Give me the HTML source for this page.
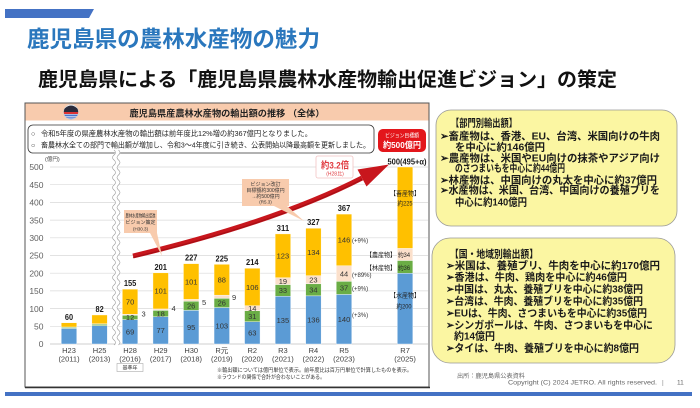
<!DOCTYPE html>
<html><head><meta charset="utf-8">
<style>
html,body{margin:0;padding:0;background:#fff;}
svg{display:block;font-family:"Liberation Sans","Noto Sans CJK JP",sans-serif;}
.b{fill:#5b9bd5}.g{fill:#6aad45}.p{fill:#fbe0cb}.y{fill:#ffc000}
.s rect{stroke:#fff;stroke-width:0.4}
.il{font-size:7.5px;fill:#333;text-anchor:middle}
.tl{font-size:8px;font-weight:bold;fill:#1a1a1a;text-anchor:middle}
.xl{font-size:7.5px;fill:#404040;text-anchor:middle}
.yl{font-size:8.5px;fill:#606060;text-anchor:end}
.rb{font-size:10.5px;font-weight:bold;fill:#1a1a1a}
</style></head><body>
<svg width="700" height="408" viewBox="0 0 700 408" xmlns="http://www.w3.org/2000/svg">
<rect width="700" height="408" fill="#fff"/>
<!-- top bar & titles -->
<polygon points="5,9 94,9 89,18 5,18" fill="#4472c4"/>
<text x="27" y="47" font-size="22.5" font-weight="bold" fill="#2a77bd" textLength="293" lengthAdjust="spacingAndGlyphs">鹿児島県の農林水産物の魅力</text>
<text x="38" y="86" font-size="19.5" font-weight="bold" fill="#111" textLength="579" lengthAdjust="spacingAndGlyphs">鹿児島県による「鹿児島県農林水産物輸出促進ビジョン」の策定</text>

<!-- chart frame -->
<rect x="25" y="103" width="404" height="284" fill="#fff" stroke="#555" stroke-width="1"/>
<line x1="25" y1="387.5" x2="430" y2="387.5" stroke="#333" stroke-width="1.5"/>
<rect x="25.5" y="103.5" width="403" height="17" fill="#f8cbad"/>
<clipPath id="lc"><circle cx="71" cy="112" r="7.5"/></clipPath>
<g clip-path="url(#lc)">
<rect x="63" y="104" width="16" height="16" fill="#fff"/>
<path d="M62,112 Q66,105.5 71,105.5 Q76,105.5 80,112 Z" fill="#2b2b3b"/>
<rect x="63" y="112" width="16" height="2" fill="#d33"/>
<rect x="63" y="114.5" width="16" height="1.6" fill="#4a76c8"/>
<rect x="63" y="116.6" width="16" height="1.6" fill="#7a95d8"/>
<rect x="63" y="118.6" width="16" height="2" fill="#4a76c8"/>
</g>
<circle cx="71" cy="112" r="7.5" fill="none" stroke="#ccc" stroke-width="0.5"/>
<text x="227" y="116.5" text-anchor="middle" font-size="9" font-weight="bold" fill="#222" textLength="195" lengthAdjust="spacingAndGlyphs">鹿児島県産農林水産物の輸出額の推移 （全体）</text>

<rect x="28" y="125" width="346" height="28" rx="5" fill="#fff" stroke="#333" stroke-width="0.8"/>
<text x="31" y="136" font-size="7" fill="#222">○</text>
<text x="41" y="136" font-size="7.2" fill="#222" textLength="271" lengthAdjust="spacingAndGlyphs">令和5年度の県産農林水産物の輸出額は前年度比12%増の約367億円となりました。</text>
<text x="31" y="147.5" font-size="7" fill="#222">○</text>
<text x="41" y="147.5" font-size="7.2" fill="#222" textLength="329" lengthAdjust="spacingAndGlyphs">畜農林水全ての部門で輸出額が増加し、令和3～4年度に引き続き、公表開始以降最高額を更新しました。</text>

<rect x="378" y="129" width="48" height="23" rx="5" fill="#e3161b"/>
<text x="402" y="137.5" text-anchor="middle" font-size="5.5" fill="#fff" textLength="34" lengthAdjust="spacingAndGlyphs">ビジョン目標額</text>
<text x="402" y="148" text-anchor="middle" font-size="8.5" font-weight="bold" fill="#fff" textLength="38" lengthAdjust="spacingAndGlyphs">約500億円</text>

<!-- axis -->
<text x="45" y="161" font-size="5.5" fill="#444">(億円)</text>
<g stroke="#d9d9d9" stroke-width="0.7">
<line x1="50" y1="167" x2="428" y2="167"/>
<line x1="50" y1="184.7" x2="428" y2="184.7"/>
<line x1="50" y1="202.4" x2="428" y2="202.4"/>
<line x1="50" y1="220.1" x2="428" y2="220.1"/>
<line x1="50" y1="237.8" x2="428" y2="237.8"/>
<line x1="50" y1="255.5" x2="428" y2="255.5"/>
<line x1="50" y1="273.2" x2="428" y2="273.2"/>
<line x1="50" y1="290.9" x2="428" y2="290.9"/>
<line x1="50" y1="308.6" x2="428" y2="308.6"/>
<line x1="50" y1="326.3" x2="428" y2="326.3"/>
</g>
<line x1="50" y1="344" x2="428" y2="344" stroke="#bfbfbf" stroke-width="0.8"/>
<text class="yl" x="43.5" y="170.2">500</text>
<text class="yl" x="43.5" y="187.9">450</text>
<text class="yl" x="43.5" y="205.6">400</text>
<text class="yl" x="43.5" y="223.3">350</text>
<text class="yl" x="43.5" y="241">300</text>
<text class="yl" x="43.5" y="258.7">250</text>
<text class="yl" x="43.5" y="276.4">200</text>
<text class="yl" x="43.5" y="294.1">150</text>
<text class="yl" x="43.5" y="311.8">100</text>
<text class="yl" x="43.5" y="329.5">50</text>
<text class="yl" x="43.5" y="347.2">0</text>

<!-- wavy break -->
<path d="M116.2,150 q3,2.5 0,5 t0,5 t0,5 t0,5 t0,5 t0,5 t0,5 t0,5 t0,5 t0,5 t0,5 t0,5 t0,5 t0,5 t0,5 t0,5 t0,5 t0,5 t0,5 t0,5 t0,5 t0,5 t0,5 t0,5 t0,5 t0,5 t0,5 t0,5 t0,5 t0,5 t0,5 t0,5 t0,5 t0,5 t0,5 t0,5 t0,5 t0,5 t0,5" fill="none" stroke="#fff" stroke-width="5"/>
<path d="M114,150 q3,2.5 0,5 t0,5 t0,5 t0,5 t0,5 t0,5 t0,5 t0,5 t0,5 t0,5 t0,5 t0,5 t0,5 t0,5 t0,5 t0,5 t0,5 t0,5 t0,5 t0,5 t0,5 t0,5 t0,5 t0,5 t0,5 t0,5 t0,5 t0,5 t0,5 t0,5 t0,5 t0,5 t0,5 t0,5 t0,5 t0,5 t0,5 t0,5 t0,5" fill="none" stroke="#999" stroke-width="0.6"/>
<path d="M118.5,150 q3,2.5 0,5 t0,5 t0,5 t0,5 t0,5 t0,5 t0,5 t0,5 t0,5 t0,5 t0,5 t0,5 t0,5 t0,5 t0,5 t0,5 t0,5 t0,5 t0,5 t0,5 t0,5 t0,5 t0,5 t0,5 t0,5 t0,5 t0,5 t0,5 t0,5 t0,5 t0,5 t0,5 t0,5 t0,5 t0,5 t0,5 t0,5 t0,5 t0,5" fill="none" stroke="#999" stroke-width="0.6"/>

<!-- bars -->
<g class="s">
<rect class="b" x="61.25" y="328.42" width="15.5" height="15.58"/>
<rect class="g" x="61.25" y="327.36" width="15.5" height="1.06"/>
<rect class="p" x="61.25" y="327.01" width="15.5" height="0.35"/>
<rect class="y" x="61.25" y="322.76" width="15.5" height="4.25"/>

<rect class="b" x="91.85" y="325.59" width="15.5" height="18.41"/>
<rect class="g" x="91.85" y="324.17" width="15.5" height="1.42"/>
<rect class="p" x="91.85" y="323.82" width="15.5" height="0.35"/>
<rect class="y" x="91.85" y="314.97" width="15.5" height="8.85"/>

<rect class="b" x="122.35" y="319.57" width="15.5" height="24.43"/>
<rect class="g" x="122.35" y="315.32" width="15.5" height="4.25"/>
<rect class="p" x="122.35" y="314.26" width="15.5" height="1.06"/>
<rect class="y" x="122.35" y="289.13" width="15.5" height="25.13"/>

<rect class="b" x="152.95" y="316.74" width="15.5" height="27.26"/>
<rect class="g" x="152.95" y="310.37" width="15.5" height="6.37"/>
<rect class="p" x="152.95" y="308.95" width="15.5" height="1.42"/>
<rect class="y" x="152.95" y="272.85" width="15.5" height="36.1"/>

<rect class="b" x="183.45" y="310.37" width="15.5" height="33.63"/>
<rect class="g" x="183.45" y="301.17" width="15.5" height="9.2"/>
<rect class="p" x="183.45" y="299.4" width="15.5" height="1.77"/>
<rect class="y" x="183.45" y="263.64" width="15.5" height="35.76"/>

<rect class="b" x="214.05" y="307.54" width="15.5" height="36.46"/>
<rect class="g" x="214.05" y="298.34" width="15.5" height="9.2"/>
<rect class="p" x="214.05" y="295.15" width="15.5" height="3.19"/>
<rect class="y" x="214.05" y="264.35" width="15.5" height="30.8"/>

<rect class="b" x="244.55" y="321.7" width="15.5" height="22.3"/>
<rect class="g" x="244.55" y="310.72" width="15.5" height="10.98"/>
<rect class="p" x="244.55" y="305.77" width="15.5" height="4.95"/>
<rect class="y" x="244.55" y="268.24" width="15.5" height="37.53"/>

<rect class="b" x="275.15" y="296.21" width="15.5" height="47.79"/>
<rect class="g" x="275.15" y="284.53" width="15.5" height="11.68"/>
<rect class="p" x="275.15" y="277.8" width="15.5" height="6.73"/>
<rect class="y" x="275.15" y="233.91" width="15.5" height="43.89"/>

<rect class="b" x="305.65" y="295.86" width="15.5" height="48.14"/>
<rect class="g" x="305.65" y="283.82" width="15.5" height="12.04"/>
<rect class="p" x="305.65" y="275.68" width="15.5" height="8.14"/>
<rect class="y" x="305.65" y="228.24" width="15.5" height="47.44"/>

<rect class="b" x="336.25" y="294.44" width="15.5" height="49.56"/>
<rect class="g" x="336.25" y="281.34" width="15.5" height="13.1"/>
<rect class="p" x="336.25" y="265.77" width="15.5" height="15.57"/>
<rect class="y" x="336.25" y="214.08" width="15.5" height="51.69"/>

<rect class="b" x="397.35" y="273.2" width="15.5" height="70.8"/>
<rect class="g" x="397.35" y="260.46" width="15.5" height="12.74"/>
<rect class="p" x="397.35" y="248.42" width="15.5" height="12.04"/>
<rect class="y" x="397.35" y="167" width="15.5" height="81.42"/>
</g>

<!-- top labels -->
<text class="tl" x="69" y="319.8" textLength="8.2" lengthAdjust="spacingAndGlyphs">60</text>
<text class="tl" x="99.6" y="312" textLength="8.2" lengthAdjust="spacingAndGlyphs">82</text>
<text class="tl" x="130.1" y="286" textLength="12.5" lengthAdjust="spacingAndGlyphs">155</text>
<text class="tl" x="160.7" y="269.8" textLength="12.5" lengthAdjust="spacingAndGlyphs">201</text>
<text class="tl" x="191.2" y="260.6" textLength="12.5" lengthAdjust="spacingAndGlyphs">227</text>
<text class="tl" x="221.8" y="261.3" textLength="12.5" lengthAdjust="spacingAndGlyphs">225</text>
<text class="tl" x="252.3" y="265.2" textLength="12.5" lengthAdjust="spacingAndGlyphs">214</text>
<text class="tl" x="282.9" y="230.9" textLength="12.5" lengthAdjust="spacingAndGlyphs">311</text>
<text class="tl" x="313.4" y="225.2" textLength="12.5" lengthAdjust="spacingAndGlyphs">327</text>
<text class="tl" x="344" y="211.1" textLength="12.5" lengthAdjust="spacingAndGlyphs">367</text>
<text class="tl" x="407" y="164.5" font-size="7" textLength="39" lengthAdjust="spacingAndGlyphs">500(495+α)</text>

<!-- inside labels -->
<g class="il">
<text x="130.1" y="334.6">69</text><text x="130.1" y="320.2">12</text><text x="130.1" y="304.5">70</text>
<text x="160.7" y="333.2">77</text><text x="160.7" y="316.4">18</text><text x="160.7" y="293.7">101</text>
<text x="191.2" y="330">95</text><text x="191.2" y="308.6">26</text><text x="191.2" y="284.3">101</text>
<text x="221.8" y="328.6">103</text><text x="221.8" y="305.7">26</text><text x="221.8" y="282.5">88</text>
<text x="252.3" y="335.7">63</text><text x="252.3" y="319">31</text><text x="252.3" y="311">14</text><text x="252.3" y="289.8">106</text>
<text x="282.9" y="322.9">135</text><text x="282.9" y="293.2">33</text><text x="282.9" y="284">19</text><text x="282.9" y="258.7">123</text>
<text x="313.4" y="322.7">136</text><text x="313.4" y="292.6">34</text><text x="313.4" y="282.6">23</text><text x="313.4" y="254.8">134</text>
<text x="344" y="322">140</text><text x="344" y="290.7">37</text><text x="344" y="276.4">44</text><text x="344" y="242.7">146</text>
</g>
<g font-size="7.5" fill="#333">
<text x="141.5" y="316.5">3</text>
<text x="171.5" y="311">4</text>
<text x="202" y="305">5</text>
<text x="232" y="300">9</text>
</g>
<g font-size="6" fill="#333">
<text x="352" y="242.5">(+9%)</text>
<text x="352" y="277">(+89%)</text>
<text x="352" y="290.5">(+9%)</text>
<text x="352" y="317">(+3%)</text>
</g>
<g font-size="6.5" fill="#222">
<text x="405" y="195.5" text-anchor="middle" textLength="30" lengthAdjust="spacingAndGlyphs">【畜産物】</text>
<text x="405" y="205.5" text-anchor="middle" textLength="15" lengthAdjust="spacingAndGlyphs">約225</text>
<text x="396" y="257" text-anchor="end" textLength="30" lengthAdjust="spacingAndGlyphs">【農産物】</text>
<text x="404" y="257" text-anchor="middle" textLength="12" lengthAdjust="spacingAndGlyphs">約34</text>
<text x="396" y="270" text-anchor="end" textLength="30" lengthAdjust="spacingAndGlyphs">【林産物】</text>
<text x="404" y="270" text-anchor="middle" textLength="12" lengthAdjust="spacingAndGlyphs">約36</text>
<text x="405" y="297.5" text-anchor="middle" textLength="30" lengthAdjust="spacingAndGlyphs">【水産物】</text>
<text x="404" y="308.5" text-anchor="middle" textLength="15" lengthAdjust="spacingAndGlyphs">約200</text>
</g>

<!-- x labels -->
<g class="xl">
<text x="69" y="353">H23</text><text x="69" y="361.5">(2011)</text>
<text x="99.6" y="353">H25</text><text x="99.6" y="361.5">(2013)</text>
<text x="130.1" y="353">H28</text><text x="130.1" y="361.5">(2016)</text>
<text x="160.7" y="353">H29</text><text x="160.7" y="361.5">(2017)</text>
<text x="191.2" y="353">H30</text><text x="191.2" y="361.5">(2018)</text>
<text x="221.8" y="353">R元</text><text x="221.8" y="361.5">(2019)</text>
<text x="252.3" y="353">R2</text><text x="252.3" y="361.5">(2020)</text>
<text x="282.9" y="353">R3</text><text x="282.9" y="361.5">(2021)</text>
<text x="313.4" y="353">R4</text><text x="313.4" y="361.5">(2022)</text>
<text x="344" y="353">R5</text><text x="344" y="361.5">(2023)</text>
<text x="405.1" y="353">R7</text><text x="405.1" y="361.5">(2025)</text>
</g>
<rect x="117" y="363.5" width="26" height="8" fill="#fff" stroke="#aaa" stroke-width="0.6"/>
<text x="130" y="369.6" text-anchor="middle" font-size="5" fill="#333">基準年</text>
<text x="217" y="372" font-size="5.5" fill="#333" textLength="195" lengthAdjust="spacingAndGlyphs">※輸出額については億円単位で表示。前年度比は百万円単位で計算したものを表示。</text>
<text x="217" y="379" font-size="5.5" fill="#333" textLength="108" lengthAdjust="spacingAndGlyphs">※ラウンドの関係で合計が合わないことがある。</text>

<!-- arrow -->
<path d="M133,256 C200,240 290,215 362,178" stroke="#c8161d" stroke-width="5" fill="none"/>
<path d="M133,257.5 C200,241.5 290,216.5 362,179.5" stroke="#8e0c10" stroke-width="1.2" fill="none" opacity="0.6"/>
<polygon points="357.5,169.5 366.5,186.5 389,164.5" fill="#c8161d"/>

<!-- callouts -->
<path d="M124,210 H157 V233 L162,256 L150,233 H124 Z" fill="#f8cbad"/>
<text x="140.5" y="217.5" text-anchor="middle" font-size="5" fill="#333" textLength="30" lengthAdjust="spacingAndGlyphs">農林水産物輸出促進</text>
<text x="140.5" y="224" text-anchor="middle" font-size="5" fill="#333">ビジョン策定</text>
<text x="140.5" y="230.5" text-anchor="middle" font-size="4.5" fill="#333">(H30.3)</text>

<path d="M242,179 H289 V206 H287 L304,221 L274,206 H242 Z" fill="#f8cbad"/>
<text x="265.5" y="186" text-anchor="middle" font-size="5" fill="#333">ビジョン改訂</text>
<text x="265.5" y="192" text-anchor="middle" font-size="5" fill="#333">目標額約300億円</text>
<text x="265.5" y="198" text-anchor="middle" font-size="5" fill="#333">→約500億円</text>
<text x="265.5" y="203.5" text-anchor="middle" font-size="4.5" fill="#333">(R5.3)</text>

<rect x="316" y="156" width="37" height="22" rx="2" fill="#fff" stroke="#f2c4c4" stroke-width="0.8"/>
<text x="335" y="168.5" text-anchor="middle" font-size="9.5" font-weight="bold" fill="#e0393e" textLength="28" lengthAdjust="spacingAndGlyphs">約3.2倍</text>
<text x="335" y="175.5" text-anchor="middle" font-size="5" fill="#e0393e">(H28比)</text>

<!-- right boxes -->
<rect x="436" y="110" width="241" height="116" rx="15" fill="#fbf6a2" stroke="#999" stroke-width="0.8"/>
<g class="rb">
<text x="451" y="126.7" textLength="66" lengthAdjust="spacingAndGlyphs">【部門別輸出額】</text>
<text x="440" y="139.7" textLength="220" lengthAdjust="spacingAndGlyphs">➢畜産物は、香港、EU、台湾、米国向けの牛肉</text>
<text x="455" y="150.7" textLength="90" lengthAdjust="spacingAndGlyphs">を中心に約146億円</text>
<text x="440" y="161.7" textLength="220" lengthAdjust="spacingAndGlyphs">➢農産物は、米国やEU向けの抹茶やアジア向け</text>
<text x="455" y="171.7" textLength="110" lengthAdjust="spacingAndGlyphs">のさつまいもを中心に約44億円</text>
<text x="440" y="183.7" textLength="217" lengthAdjust="spacingAndGlyphs">➢林産物は、中国向けの丸太を中心に約37億円</text>
<text x="440" y="193.7" textLength="220" lengthAdjust="spacingAndGlyphs">➢水産物は、米国、台湾、中国向けの養殖ブリを</text>
<text x="455" y="205.7" textLength="72" lengthAdjust="spacingAndGlyphs">中心に約140億円</text>
</g>

<rect x="432" y="238" width="243" height="125" rx="18" fill="#fbf6a2" stroke="#999" stroke-width="0.8"/>
<g class="rb">
<text x="450" y="257.7" textLength="88" lengthAdjust="spacingAndGlyphs">【国・地域別輸出額】</text>
<text x="446" y="269.2" textLength="214" lengthAdjust="spacingAndGlyphs">➢米国は、養殖ブリ、牛肉を中心に約170億円</text>
<text x="446" y="280.7" textLength="181" lengthAdjust="spacingAndGlyphs">➢香港は、牛肉、鶏肉を中心に約46億円</text>
<text x="446" y="292.7" textLength="197" lengthAdjust="spacingAndGlyphs">➢中国は、丸太、養殖ブリを中心に約38億円</text>
<text x="446" y="304.7" textLength="197" lengthAdjust="spacingAndGlyphs">➢台湾は、牛肉、養殖ブリを中心に約35億円</text>
<text x="446" y="316.7" textLength="201" lengthAdjust="spacingAndGlyphs">➢EUは、牛肉、さつまいもを中心に約35億円</text>
<text x="446" y="328.7" textLength="207" lengthAdjust="spacingAndGlyphs">➢シンガポールは、牛肉、さつまいもを中心に</text>
<text x="454" y="339.7" textLength="41" lengthAdjust="spacingAndGlyphs">約14億円</text>
<text x="446" y="351.7" textLength="193" lengthAdjust="spacingAndGlyphs">➢タイは、牛肉、養殖ブリを中心に約8億円</text>
</g>

<!-- footer -->
<text x="457" y="378" font-size="6" fill="#666" textLength="68" lengthAdjust="spacingAndGlyphs">出所：鹿児島県公表資料</text>
<text x="508" y="384.5" font-size="6.5" fill="#666" textLength="149" lengthAdjust="spacingAndGlyphs">Copyright (C) 2024 JETRO. All rights reserved.</text>
<text x="662" y="384.5" font-size="6.5" fill="#888">|</text>
<text x="677" y="384.5" font-size="6.5" fill="#666">11</text>
<rect x="5" y="392" width="687" height="4" fill="#4472c4"/>
</svg>
</body></html>
